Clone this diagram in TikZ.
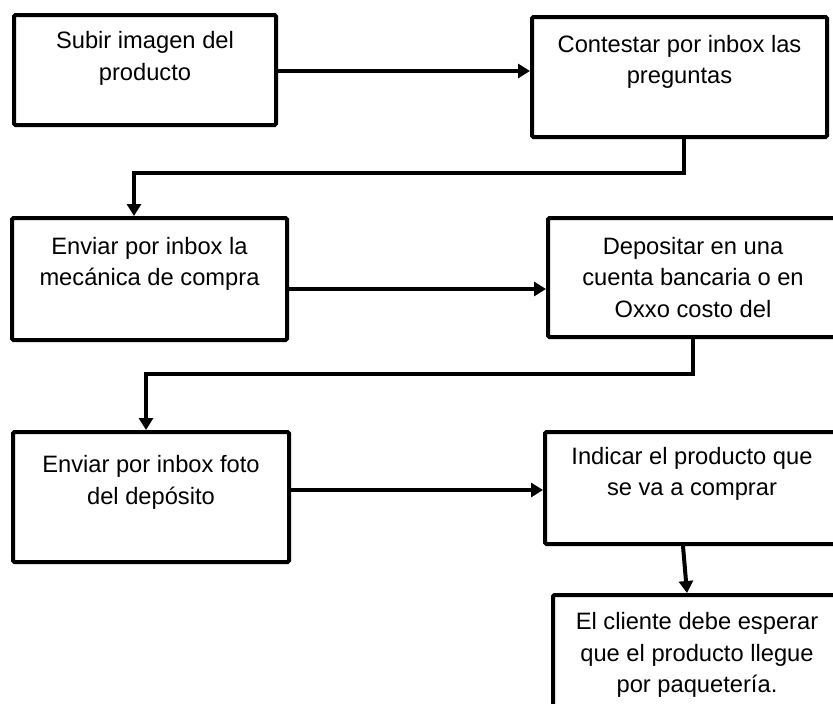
\documentclass[tikz,border=0pt]{standalone}
\usepackage{fontspec}
\setmainfont{Liberation Sans}
\usepackage{tikz}
\usetikzlibrary{arrows.meta}
\tikzset{
  stepbox/.style={draw, line width=4pt, rounded corners=1.5pt,
    align=center, inner sep=0pt,
    font=\fontsize{23.7}{31.5}\selectfont},
  arr/.style={-{Triangle[length=12pt, width=14pt]}, line width=4pt},
}

\begin{document}
\begin{tikzpicture}[x=1pt, y=1pt]
  \useasboundingbox (0,0) rectangle (833,-704);

  % first row
  \node[stepbox, minimum width=262pt, minimum height=110pt, text depth=28pt]
    (subir) at (145,-70) {Subir imagen del\\producto};
  \node[stepbox, minimum width=295pt, minimum height=120pt, text depth=35pt]
    (contestar) at (679.5,-77) {Contestar por inbox las\\preguntas};

  % second row
  \node[stepbox, minimum width=275pt, minimum height=122pt, text depth=35pt]
    (mecanica) at (149.5,-279) {Enviar por inbox la\\mec\'anica de compra};
  \node[stepbox, minimum width=290pt, minimum height=119pt]
    (deposito) at (693,-277.5) {Depositar en una\\cuenta bancaria o en\\Oxxo costo del};

  % third row
  \node[stepbox, minimum width=276pt, minimum height=130pt, text depth=34pt]
    (foto) at (151,-497) {Enviar por inbox foto\\del dep\'osito};
  \node[stepbox, minimum width=294pt, minimum height=112pt, text depth=33pt]
    (indicar) at (692,-488) {Indicar el producto que\\se va a comprar};
  \node[stepbox, minimum width=288pt, minimum height=120pt]
    (esperar) at (697,-655) {El cliente debe esperar\\que el producto llegue\\por paqueter\'ia.};

  % connectors
  \draw[arr] ([yshift=-1pt]subir.east) -- ([yshift=-1pt]subir.east -| contestar.west);
  \draw[arr] ([xshift=4.5pt]contestar.south) -- ++(0,-34) -| ([xshift=-15.5pt]mecanica.north);
  \draw[arr] ([yshift=-10pt]mecanica.east) -- ([yshift=-10pt]mecanica.east -| deposito.west);
  \draw[arr] (deposito.south) -- ++(0,-35) -| ([xshift=-5pt]foto.north);
  \draw[arr] ([yshift=7pt]foto.east) -- ([yshift=7pt]foto.east -| indicar.west);
  \draw[arr] ([xshift=-9pt]indicar.south) -- ([xshift=-10pt]esperar.north);
\end{tikzpicture}
\end{document}
